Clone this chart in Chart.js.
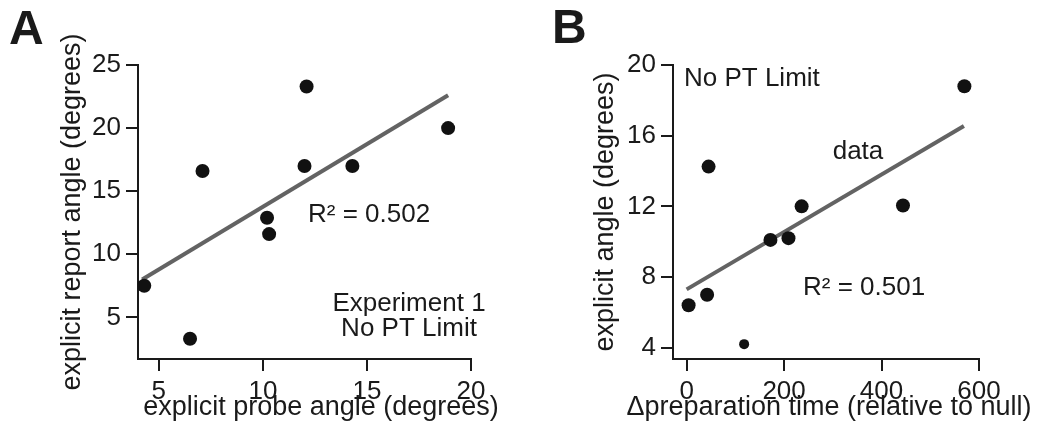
<!DOCTYPE html>
<html>
<head>
<meta charset="utf-8">
<script src="https://cdn.jsdelivr.net/npm/chart.js@4.4.1/dist/chart.umd.min.js"></script>
<style>
  html, body { margin: 0; padding: 0; background: #fff; }
  #wrapA { position: absolute; left: 0; top: 0; width: 530px; height: 431px; }
  #wrapB { position: absolute; left: 530px; top: 0; width: 525px; height: 431px; }
</style>
</head>
<body>
<div id="wrapA"><canvas id="chartA" width="530" height="431"></canvas></div>
<div id="wrapB"><canvas id="chartB" width="525" height="431"></canvas></div>
<script>
// Panel A - explicit probe angle vs explicit report angle
var probeAngle  = [4.3, 6.5, 7.1, 10.2, 10.3, 12.1, 12.0, 14.3, 18.9];
var reportAngle = [7.5, 3.3, 16.6, 12.9, 11.6, 23.3, 17.0, 17.0, 20.0];
var fitA = [[4.2, 8.0], [18.9, 22.6]];   // regression line ends
var ticksAx = [5, 10, 15, 20];
var ticksAy = [5, 10, 15, 20, 25];

// Panel B - preparation time vs explicit angle
var prepTime      = [4, 42, 45, 118, 172, 209, 236, 444, 570];
var explicitAngle = [6.4, 7.0, 14.25, 4.2, 10.1, 10.2, 12.0, 12.05, 18.8];
var fitB = [[0, 7.3], [569, 16.55]];
var ticksBx = [0, 200, 400, 600];
var ticksBy = [4, 8, 12, 16, 20];

var ink = '#1a1a1a';
var fam = "'Liberation Sans', Arial, sans-serif";
Chart.defaults.font.family = fam;
Chart.defaults.color = ink;

function toPoints(xs, ys) {
    return xs.map(function (x, i) { return {x: x, y: ys[i]}; });
}

// free text on the canvas (panel letters, notes, x titles)
function notes(items) {
    return {
        id: 'notes',
        afterDraw: function (chart) {
            var c = chart.ctx;
            items.forEach(function (t) {
                c.save();
                c.font = t.font || ('26px ' + fam);
                c.fillStyle = ink;
                c.textAlign = t.align || 'left';
                c.textBaseline = t.base || 'alphabetic';
                c.fillText(t.text, t.x, t.y);
                c.restore();
            });
        }
    };
}

function axis(pos, min, max, ticks, size, title, titlePad) {
    var horiz = pos === 'bottom';
    return {
        type: 'linear',
        position: pos,
        min: min,
        max: max,
        afterBuildTicks: function (s) { s.ticks = ticks.map(function (v) { return {value: v}; }); },
        afterFit: function (s) { if (horiz) s.height = size; else s.width = size; },
        grid: {drawOnChartArea: false, drawTicks: true, tickLength: 12, color: ink, lineWidth: 2},
        border: {display: true, color: ink, width: 2},
        ticks: {color: ink, padding: 5, font: {size: 26}, maxRotation: 0},
        title: {display: !!title, text: title, color: ink, font: {size: 27}, padding: titlePad}
    };
}

function makeChart(id, pts, fit, scales, padRight, labels, smallIdx) {
    return new Chart(document.getElementById(id), {
        type: 'scatter',
        data: {
            datasets: [{
                data: pts,
                backgroundColor: '#111',
                borderWidth: 0,
                pointRadius: function (ctx) { return ctx.dataIndex === smallIdx ? 5 : 7; }
            }, {
                data: fit.map(function (p) { return {x: p[0], y: p[1]}; }),
                showLine: true,
                borderColor: '#636363',
                borderWidth: 4,
                pointRadius: 0
            }]
        },
        options: {
            responsive: false,
            animation: false,
            events: [],
            layout: {padding: {left: 0, top: 65, right: padRight, bottom: 0}},
            plugins: {legend: {display: false}, tooltip: {enabled: false}},
            scales: scales
        },
        plugins: [notes(labels)]
    });
}

makeChart('chartA', toPoints(probeAngle, reportAngle), fitA, {
    x: axis('bottom', 4, 20, ticksAx, 72, ''),
    y: axis('left', 1.7, 25, ticksAy, 138, 'explicit report angle (degrees)', {top: 56})
}, 59, [
    {text: 'A', x: 9, y: 44, font: 'bold 48px ' + fam},
    {text: 'R\u00B2 = 0.502', x: 308, y: 222},
    {text: 'Experiment 1', x: 409, y: 311, align: 'center'},
    {text: 'No PT Limit', x: 409, y: 336, align: 'center'},
    {text: 'explicit probe angle (degrees)', x: 321, y: 408, align: 'center', base: 'middle', font: '27px ' + fam}
], -1);

makeChart('chartB', toPoints(prepTime, explicitAngle), fitB, {
    x: axis('bottom', -28, 600, ticksBx, 72, ''),
    y: axis('left', 3.36, 20, ticksBy, 143, 'explicit angle (degrees)', {top: 59})
}, 76, [
    {text: 'B', x: 22, y: 43, font: 'bold 48px ' + fam},
    {text: 'No PT Limit', x: 154, y: 86},
    {text: 'data', x: 328, y: 159, align: 'center'},
    {text: 'R\u00B2 = 0.501', x: 273, y: 295},
    {text: '\u0394preparation time (relative to null)', x: 299, y: 408, align: 'center', base: 'middle', font: '27px ' + fam}
], 3);
</script>
</body>
</html>
